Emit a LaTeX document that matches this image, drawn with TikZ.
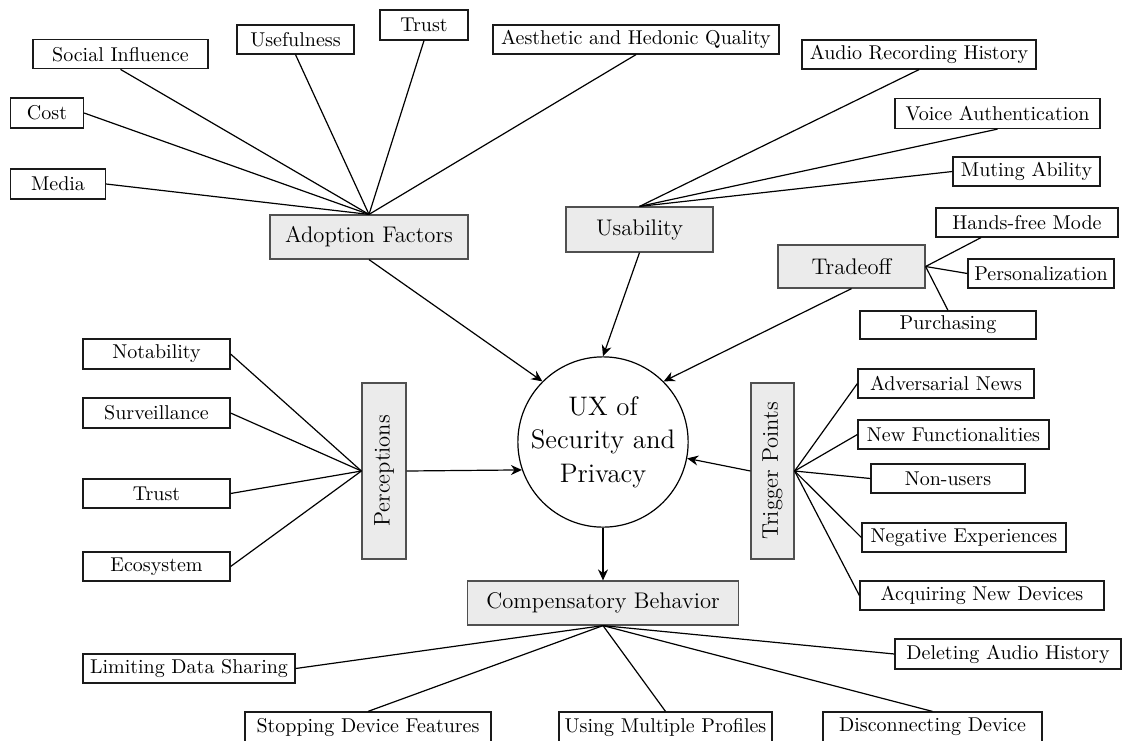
\documentclass[tikz,border=0pt]{standalone}
\usepackage{graphicx}
\usetikzlibrary{arrows.meta}
\definecolor{hubfill}{HTML}{EBEBEB}
\definecolor{hubdraw}{HTML}{505050}
\definecolor{leafdraw}{HTML}{1A1A1A}
\tikzset{
  leaf/.style={draw=leafdraw, line width=0.6pt, fill=white, inner sep=0pt,
    font=\fontsize{10}{12}\selectfont},
  hub/.style={draw=hubdraw, line width=0.6pt, fill=hubfill, inner sep=0pt,
    font=\fontsize{11.3}{13.5}\selectfont},
  core/.style={draw=black, line width=0.6pt, circle, inner sep=0pt, align=center,
    minimum size=80.5pt, font=\fontsize{13.4}{16.75}\selectfont},
  link/.style={line width=0.6pt, draw=black},
  flow/.style={line width=0.6pt, draw=black, -{Stealth[length=5.5pt,width=5pt]}},
}
\begin{document}
\begin{tikzpicture}[x=0.5pt, y=-0.5pt]
\useasboundingbox (0,0) rectangle (1129,740);

% central concept
\node[core] (UX) at (603,442) {UX of\\Security and\\Privacy};

% category boxes
\node[hub, minimum width=99pt, minimum height=22pt] (AF) at (369,237) {Adoption Factors};
\node[hub, minimum width=73.5pt, minimum height=22.5pt] (U) at (639.5,229.5) {Usability};
\node[hub, minimum width=73.5pt, minimum height=21.5pt] (T) at (851.5,266.5) {Tradeoff};
\node[hub, minimum width=22pt, minimum height=88pt] (P) at (384,471) {\rotatebox{90}{Perceptions}};
\node[hub, minimum width=21.5pt, minimum height=88pt] (TP) at (772.5,471) {\rotatebox{90}{Trigger Points}};
\node[hub, minimum width=135.5pt, minimum height=22pt] (CB) at (603,603) {Compensatory Behavior};

% adoption factors
\node[leaf, minimum width=87.5pt, minimum height=14.5pt] (si) at (120.5,54.3) {Social Influence};
\node[leaf, minimum width=58.5pt, minimum height=14.5pt] (use) at (295.5,39.5) {Usefulness};
\node[leaf, minimum width=44pt, minimum height=15pt] (trustA) at (424,25) {Trust};
\node[leaf, minimum width=143pt, minimum height=14.5pt] (aes) at (636,39.5) {Aesthetic and Hedonic Quality};
\node[leaf, minimum width=36.5pt, minimum height=15pt] (cost) at (47,113) {Cost};
\node[leaf, minimum width=47.5pt, minimum height=15pt] (media) at (58,184) {Media};

% usability
\node[leaf, minimum width=117pt, minimum height=14.5pt] (arh) at (919,54.5) {Audio Recording History};
\node[leaf, minimum width=102.5pt, minimum height=15pt] (va) at (997.5,113.5) {Voice Authentication};
\node[leaf, minimum width=73.5pt, minimum height=14.5pt] (mute) at (1026.5,171.5) {Muting Ability};

% tradeoff
\node[leaf, minimum width=91pt, minimum height=14.5pt] (hfm) at (1027,222.5) {Hands-free Mode};
\node[leaf, minimum width=73pt, minimum height=14.5pt] (pers) at (1041,273.5) {Personalization};
\node[leaf, minimum width=88pt, minimum height=14pt] (purch) at (948,325) {Purchasing};

% perceptions
\node[leaf, minimum width=73.5pt, minimum height=15pt] (nota) at (156.5,354) {Notability};
\node[leaf, minimum width=73.5pt, minimum height=15pt] (surv) at (156.5,413) {Surveillance};
\node[leaf, minimum width=73.5pt, minimum height=14.5pt] (trustB) at (156.5,493.5) {Trust};
\node[leaf, minimum width=73.5pt, minimum height=14.5pt] (eco) at (156.5,566.5) {Ecosystem};

% trigger points
\node[leaf, minimum width=88pt, minimum height=14.5pt] (adv) at (946,383.5) {Adversarial News};
\node[leaf, minimum width=95.5pt, minimum height=14.5pt] (nf) at (953.5,434.5) {New Functionalities};
\node[leaf, minimum width=77pt, minimum height=14.5pt] (nu) at (948,478.5) {Non-users};
\node[leaf, minimum width=102pt, minimum height=14.5pt] (neg) at (964,537.5) {Negative Experiences};
\node[leaf, minimum width=122pt, minimum height=14.5pt] (acq) at (982,595.5) {Acquiring New Devices};

% compensatory behavior
\node[leaf, minimum width=106pt, minimum height=14.5pt] (lim) at (189,668.5) {Limiting Data Sharing};
\node[leaf, minimum width=123pt, minimum height=15pt] (stop) at (368,727) {Stopping Device Features};
\node[leaf, minimum width=106.5pt, minimum height=15pt] (ump) at (665.5,727) {Using Multiple Profiles};
\node[leaf, minimum width=109.5pt, minimum height=15pt] (disc) at (932.5,727) {Disconnecting Device};
\node[leaf, minimum width=113pt, minimum height=15pt] (del) at (1008,654) {Deleting Audio History};

% spokes
\foreach \n/\a in {si/south, use/south, trustA/south, aes/south, cost/east, media/east}
  \draw[link] (AF.north) -- (\n.\a);
\foreach \n/\a in {arh/south, va/south, mute/west}
  \draw[link] (U.north) -- (\n.\a);
\draw[link] (T.east) -- ([xshift=-23pt]hfm.south);
\draw[link] (T.east) -- (pers.west);
\draw[link] (T.east) -- (purch.north);
\foreach \n in {nota, surv, trustB, eco}
  \draw[link] (P.west) -- (\n.east);
\foreach \n in {adv, nf, nu, neg, acq}
  \draw[link] (TP.east) -- (\n.west);
\foreach \n/\a in {lim/east, stop/north, ump/north, disc/north, del/west}
  \draw[link] (CB.south) -- (\n.\a);

% arrows into and out of the core
\draw[flow] (AF.south) -- (UX.north west);
\draw[flow] (U.south) -- (UX.north);
\draw[flow] (T.south) -- (UX.north east);
\draw[flow] (P.east) -- (UX.199);
\draw[flow] (TP.west) -- (UX.349);
\draw[flow] (UX.south) -- (CB.north);
\end{tikzpicture}
\end{document}
